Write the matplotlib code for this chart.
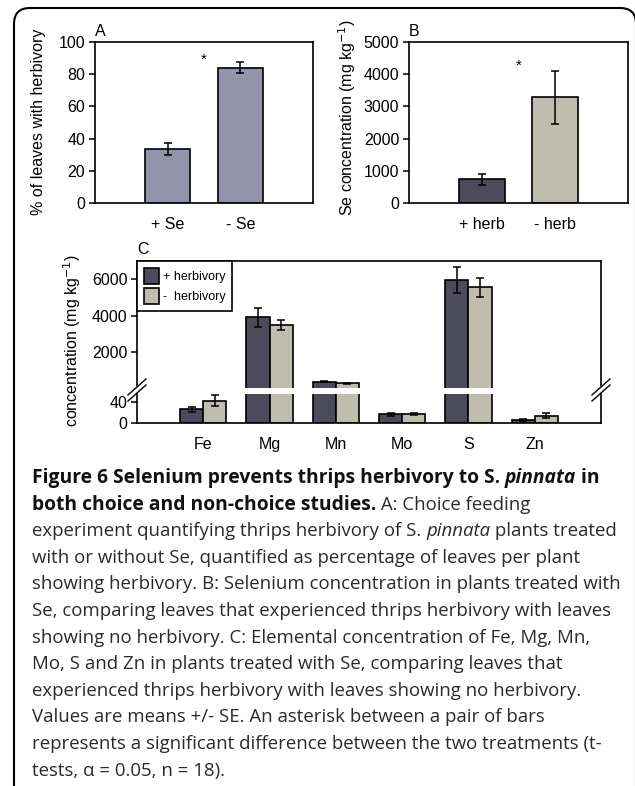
#!/usr/bin/env python
'''
Figure 6 - thrips herbivory and Se (panels A, B, C plus caption)
'''
import numpy as np
import matplotlib
matplotlib.use('Agg')
import matplotlib.pyplot as plt
from matplotlib.patches import FancyBboxPatch, Polygon
from matplotlib.lines import Line2D
from matplotlib.transforms import IdentityTransform
from matplotlib.font_manager import FontProperties

# panel A
a_labels = ['+ Se', '- Se']
a_means = [33.5, 84.0]
a_se = [3.5, 3.3]

# panel B
b_labels = ['+ herb', '- herb']
b_means = [730, 3280]
b_se = [160, 820]

# panel C
c_elements = ['Fe', 'Mg', 'Mn', 'Mo', 'S', 'Zn']
c_plus = [26, 3920, 385, 16, 5960, 5.5]
c_plus_se = [4.5, 530, 20, 3, 720, 2]
c_minus = [42, 3470, 285, 17, 5560, 14]
c_minus_se = [10, 270, 15, 2, 510, 4]
c_legend = ['+ herbivory', '-  herbivory']

W, H = 635, 786
DARK = '#4b4b5b'
LIGHT = '#bebdae'
PURPLE = '#9393ab'
LOW_TOP = 54.5   # top of the lower (broken) part in panel C

plt.rcParams['font.family'] = ['Liberation Sans', 'DejaVu Sans']
plt.rcParams['font.size'] = 11


def box(l, t, r, b):
    # pixel box (from top-left) -> figure fraction
    return [l / W, 1 - b / H, (r - l) / W, (b - t) / H]


def style_axes(ax):
    for s in ax.spines.values():
        s.set_linewidth(1.2)
    ax.tick_params(axis='y', direction='out', length=4, width=1.1, labelsize=11.5, pad=3)
    ax.tick_params(axis='x', length=0, labelsize=11.5, pad=10)


fig = plt.figure(figsize=(W / 100, H / 100), dpi=100)
ekw = dict(ecolor='black', elinewidth=1.1, capsize=3, capthick=1.1)

# A
axA = fig.add_axes(box(95, 42, 313, 203))
axA.bar([1, 2], a_means, width=0.62, color=PURPLE, edgecolor='black', linewidth=1.2,
        yerr=a_se, error_kw=ekw)
axA.set_xlim(0, 3)
axA.set_ylim(0, 100)
axA.set_yticks([0, 20, 40, 60, 80, 100])
axA.set_xticks([1, 2])
axA.set_xticklabels(a_labels)
style_axes(axA)
axA.text(1.5, 89, '*', ha='center', va='center', fontsize=11)
axA.text(0.0, 1.02, 'A', transform=axA.transAxes, fontsize=11.5, ha='left', va='bottom')
fig.text(39 / W, 1 - 122 / H, '% of leaves with herbivory', rotation=90,
         ha='center', va='center', fontsize=11.5)

# B
axB = fig.add_axes(box(409, 42, 628, 203))
axB.bar([1, 2], b_means, width=0.62, color=[DARK, LIGHT], edgecolor='black', linewidth=1.2,
        yerr=b_se, error_kw=ekw)
axB.set_xlim(0, 3)
axB.set_ylim(0, 5000)
axB.set_yticks(np.arange(0, 5001, 1000))
axB.set_xticks([1, 2])
axB.set_xticklabels(b_labels)
style_axes(axB)
axB.text(1.5, 4250, '*', ha='center', va='center', fontsize=11)
axB.text(0.0, 1.02, 'B', transform=axB.transAxes, fontsize=11.5, ha='left', va='bottom')
fig.text(347 / W, 1 - 118 / H, 'Se concentration (mg kg$^{-1}$)', rotation=90,
         ha='center', va='center', fontsize=11.5)

# C : broken y axis, two axes
axCu = fig.add_axes(box(137, 261, 601, 387.7))
axCl = fig.add_axes(box(137, 394, 601, 423))
x = np.arange(1, len(c_elements) + 1)
bw = 0.35
plus = np.array(c_plus, dtype=float)
minus = np.array(c_minus, dtype=float)

for ax, only_big in ((axCu, True), (axCl, False)):
    mp = plus > LOW_TOP if only_big else np.ones(len(x), bool)
    mm = minus > LOW_TOP if only_big else np.ones(len(x), bool)
    ax.bar(x[mp] - bw / 2, plus[mp], width=bw, color=DARK, edgecolor='black',
           linewidth=1.2, label=c_legend[0])
    ax.bar(x[mm] + bw / 2, minus[mm], width=bw, color=LIGHT, edgecolor='black',
           linewidth=1.2, label=c_legend[1])
    ax.errorbar(x[mp] - bw / 2, plus[mp], yerr=np.array(c_plus_se)[mp], fmt='none', **ekw)
    ax.errorbar(x[mm] + bw / 2, minus[mm], yerr=np.array(c_minus_se)[mm], fmt='none', **ekw)
    ax.set_xlim(0, 7)
    style_axes(ax)

axCu.set_ylim(LOW_TOP, 7000)
axCu.set_yticks([2000, 4000, 6000])
axCu.set_xticks([])
axCu.spines['bottom'].set_visible(False)
axCl.set_ylim(0, LOW_TOP)
axCl.set_yticks([0, 40])
axCl.set_xticks(x)
axCl.set_xticklabels(c_elements)
axCl.spines['top'].set_visible(False)

leg = axCu.legend(loc='upper left', bbox_to_anchor=(0, 1), borderaxespad=0,
                  fancybox=False, edgecolor='black', framealpha=1, fontsize=9,
                  handlelength=1.2, handleheight=1.6, handletextpad=0.3,
                  labelspacing=0.35, borderpad=0.55)
leg.get_frame().set_linewidth(1.2)
axCu.text(0.0, 1.03, 'C', transform=axCu.transAxes, fontsize=11.5, ha='left', va='bottom')
fig.text(72 / W, 1 - 341 / H, 'concentration (mg kg$^{-1}$)', rotation=90,
         ha='center', va='center', fontsize=11.5)

# break marks on both side spines
for xs in (137, 601):
    poly = [(xs - 9, 399), (xs + 9, 383), (xs + 9, 378), (xs - 9, 394)]
    fig.add_artist(Polygon([(px / W, 1 - py / H) for px, py in poly], closed=True,
                           facecolor='white', edgecolor='none', transform=fig.transFigure))
    for dy in (0, 6):
        fig.add_artist(Line2D([(xs - 9) / W, (xs + 9) / W],
                              [1 - (395 + dy) / H, 1 - (379 + dy) / H],
                              color='black', lw=1.0, transform=fig.transFigure))

# caption
cap_lines = [
    [('Figure 6 Selenium prevents thrips herbivory to S. ', 'bold', 'normal'),
     ('pinnata', 'bold', 'italic'), (' in', 'bold', 'normal')],
    [('both choice and non-choice studies.', 'bold', 'normal'),
     (' A: Choice feeding', 'normal', 'normal')],
    [('experiment quantifying thrips herbivory of S. ', 'normal', 'normal'),
     ('pinnata', 'normal', 'italic'), (' plants treated', 'normal', 'normal')],
    [('with or without Se, quantified as percentage of leaves per plant', 'normal', 'normal')],
    [('showing herbivory. B: Selenium concentration in plants treated with', 'normal', 'normal')],
    [('Se, comparing leaves that experienced thrips herbivory with leaves', 'normal', 'normal')],
    [('showing no herbivory. C: Elemental concentration of Fe, Mg, Mn,', 'normal', 'normal')],
    [('Mo, S and Zn in plants treated with Se, comparing leaves that', 'normal', 'normal')],
    [('experienced thrips herbivory with leaves showing no herbivory.', 'normal', 'normal')],
    [('Values are means +/- SE. An asterisk between a pair of bars', 'normal', 'normal')],
    [('represents a significant difference between the two treatments (t-', 'normal', 'normal')],
    [('tests, \u03b1 = 0.05, n = 18).', 'normal', 'normal')],
]

renderer = fig.canvas.get_renderer()
y0 = 478
for i, line in enumerate(cap_lines):
    xpos = 32.0
    ypos = y0 + i * 26.6
    for txt, wt, st in line:
        col = '#111111' if wt == 'bold' else '#2a2a2a'
        size = 13.9 if wt == 'bold' else 13.4
        prop = FontProperties(family=['Open Sans', 'DejaVu Sans'], weight=wt, style=st,
                              size=size)
        fig.text(xpos / W, 1 - ypos / H, txt, fontproperties=prop, color=col,
                 ha='left', va='center')
        w1, _, _ = renderer.get_text_width_height_descent(txt + 'l', prop, ismath=False)
        w2, _, _ = renderer.get_text_width_height_descent('l', prop, ismath=False)
        xpos += w1 - w2

# rounded outer frame
frame = FancyBboxPatch((14, -40), 622, 778 + 40, boxstyle='round,pad=0,rounding_size=16',
                       facecolor='none', edgecolor='black', linewidth=1.5,
                       transform=IdentityTransform())
fig.add_artist(frame)

plt.savefig('out.png', dpi=100)
plt.clf()
